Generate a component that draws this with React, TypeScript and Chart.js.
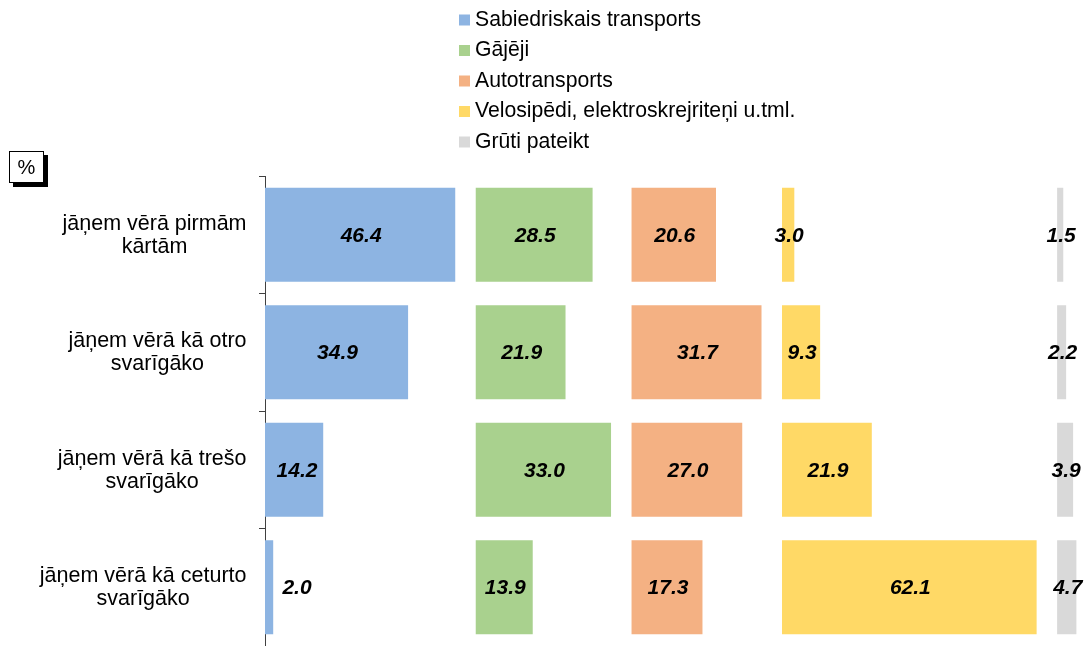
import React, { useEffect, useRef } from 'react';
import { Chart, registerables } from 'chart.js';

Chart.register(...registerables);

const categories: string[][] = [
  ['jāņem vērā pirmām', 'kārtām'],
  ['jāņem vērā kā otro', 'svarīgāko'],
  ['jāņem vērā kā trešo', 'svarīgāko'],
  ['jāņem vērā kā ceturto', 'svarīgāko'],
];

const seriesNames = [
  'Sabiedriskais transports',
  'Gājēji',
  'Autotransports',
  'Velosipēdi, elektroskrejriteņi u.tml.',
  'Grūti pateikt',
];

const sabiedriskaisTransports = [46.4, 34.9, 14.2, 2.0];
const gajeji = [28.5, 21.9, 33.0, 13.9];
const autotransports = [20.6, 31.7, 27.0, 17.3];
const velosipedi = [3.0, 9.3, 21.9, 62.1];
const grutiPateikt = [1.5, 2.2, 3.9, 4.7];

const seriesValues = [sabiedriskaisTransports, gajeji, autotransports, velosipedi, grutiPateikt];
const seriesColors = ['#8DB4E2', '#A9D18E', '#F4B183', '#FFD966', '#D9D9D9'];

const panelGap = 5;
const FONT = '"Liberation Sans", Arial, sans-serif';

// panel start offsets derived from data (max of previous panels + gap)
const panelStarts: number[] = [];
{
  let acc = 0;
  seriesValues.forEach((vals) => {
    panelStarts.push(acc);
    acc += Math.max(...vals) + panelGap;
  });
}

const overlayPlugin = {
  id: 'overlay',
  afterDatasetsDraw(chart: any) {
    const ctx = chart.ctx;
    const area = chart.chartArea;
    ctx.save();
    ctx.font = `italic bold 21px ${FONT}`;
    ctx.fillStyle = '#000';
    ctx.textAlign = 'center';
    ctx.textBaseline = 'middle';
    chart.data.datasets.forEach((ds: any, di: number) => {
      const meta = chart.getDatasetMeta(di);
      meta.data.forEach((el: any, i: number) => {
        const p = el.getProps(['x', 'y', 'base'], true);
        let cx = (p.x + p.base) / 2;
        cx = Math.max(cx, area.left + 31);
        const v = seriesValues[di][i];
        ctx.fillText(v.toFixed(1), cx + 1, p.y + 1);
      });
    });
    ctx.restore();
  },
  afterDraw(chart: any) {
    const ctx = chart.ctx;
    const yScale = chart.scales.y;
    ctx.save();
    // category labels
    ctx.font = `21.5px ${FONT}`;
    ctx.fillStyle = '#000';
    ctx.textAlign = 'center';
    ctx.textBaseline = 'middle';
    categories.forEach((lines, i) => {
      const cy = yScale.getPixelForValue(i);
      const w = Math.max(...lines.map((l) => ctx.measureText(l).width));
      const cx = 246.5 - w / 2;
      lines.forEach((l, li) => {
        ctx.fillText(l, cx, cy + (li - (lines.length - 1) / 2) * 23 + 0.5);
      });
    });
    // legend
    ctx.font = `21.2px ${FONT}`;
    ctx.textAlign = 'left';
    seriesNames.forEach((name, i) => {
      const y = 20 + 30.5 * i;
      ctx.fillStyle = seriesColors[i];
      ctx.fillRect(459, y - 5.5, 11, 11);
      ctx.fillStyle = '#000';
      ctx.fillText(name, 475, y);
    });
    // percent box
    ctx.fillStyle = '#000';
    ctx.fillRect(13, 155, 35, 32);
    ctx.fillStyle = '#fff';
    ctx.fillRect(9, 151, 35, 32);
    ctx.strokeStyle = '#000';
    ctx.lineWidth = 1;
    ctx.strokeRect(9.5, 151.5, 34, 31);
    ctx.fillStyle = '#000';
    ctx.font = `20px ${FONT}`;
    ctx.textAlign = 'center';
    ctx.fillText('%', 26.5, 168);
    ctx.restore();
  },
};

export default function App() {
  const canvasRef = useRef<HTMLCanvasElement | null>(null);

  useEffect(() => {
    if (!canvasRef.current) return;
    const labels = categories.map((c) => c.join(' '));
    const chart = new Chart(canvasRef.current, {
      type: 'bar',
      data: {
        labels,
        datasets: seriesValues.map((vals, k) => ({
          label: seriesNames[k],
          data: vals.map((v) => [panelStarts[k], panelStarts[k] + v]) as any,
          backgroundColor: seriesColors[k],
          borderWidth: 0,
          grouped: false,
          categoryPercentage: 0.8,
          barPercentage: 1,
        })),
      },
      options: {
        indexAxis: 'y',
        animation: false,
        responsive: false,
        maintainAspectRatio: false,
        layout: { padding: { top: 176, right: 2, bottom: 0, left: 0 } },
        plugins: {
          legend: { display: false },
          tooltip: { enabled: false },
        },
        scales: {
          x: {
            type: 'linear',
            display: false,
            min: 0,
            max: 200,
          },
          y: {
            type: 'category',
            offset: true,
            ticks: { display: false },
            grid: {
              offset: true,
              drawOnChartArea: false,
              drawTicks: true,
              tickLength: 6,
              color: '#404040',
            },
            border: { display: true, color: '#404040', width: 1 },
            afterFit: (scale: any) => {
              scale.width = 265;
            },
          },
        },
      },
      plugins: [overlayPlugin],
    });
    return () => chart.destroy();
  }, []);

  return (
    <div style={{ position: 'absolute', left: 0, top: 0, width: 1087, height: 646, background: '#fff' }}>
      <canvas ref={canvasRef} width={1087} height={646} style={{ display: 'block' }} />
    </div>
  );
}
